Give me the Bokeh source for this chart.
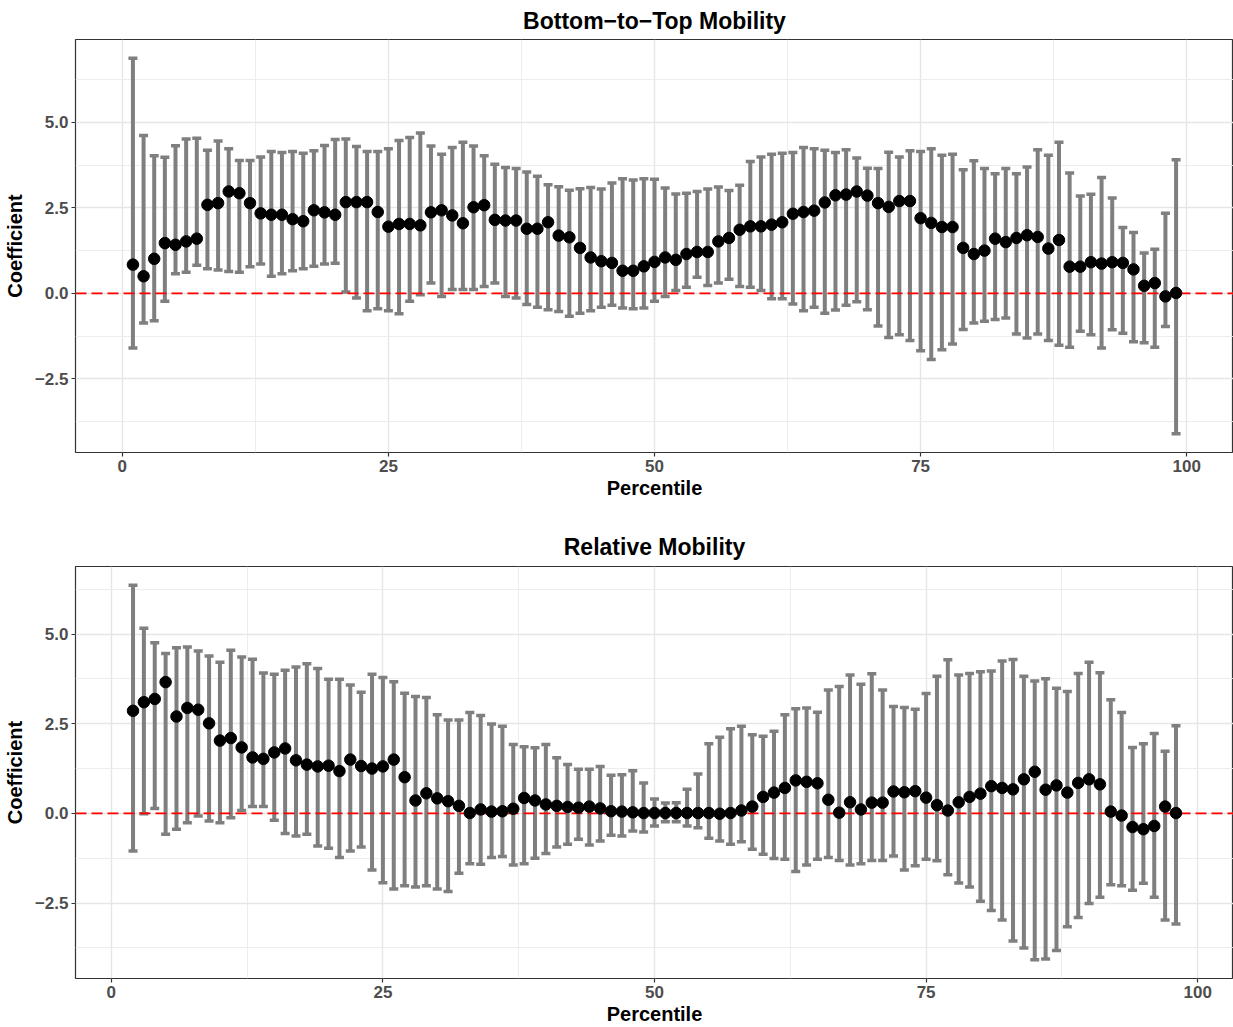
from bokeh.plotting import figure
from bokeh.layouts import column
from bokeh.models import Range1d, FixedTicker, CustomJSTickFormatter, Span, ColumnDataSource
from bokeh.embed import file_html
from bokeh.resources import INLINE

# ---------------- data: Bottom-to-Top Mobility (percentiles 1..99) ----------------
btm_pct = list(range(1, 100))
btm_coef = [0.84, 0.50, 1.01, 1.47, 1.42, 1.52, 1.60, 2.59, 2.64, 2.98,
            2.93, 2.64, 2.34, 2.30, 2.30, 2.17, 2.11, 2.43, 2.37, 2.30,
            2.67, 2.67, 2.67, 2.38, 1.95, 2.03, 2.03, 1.99, 2.37, 2.43,
            2.28, 2.05, 2.52, 2.58, 2.15, 2.13, 2.13, 1.89, 1.89, 2.08,
            1.69, 1.64, 1.33, 1.05, 0.94, 0.89, 0.66, 0.66, 0.79, 0.92,
            1.05, 0.98, 1.15, 1.21, 1.21, 1.52, 1.62, 1.86, 1.96, 1.96,
            2.01, 2.08, 2.33, 2.38, 2.42, 2.66, 2.87, 2.89, 2.98, 2.86,
            2.64, 2.53, 2.70, 2.70, 2.20, 2.06, 1.94, 1.94, 1.33, 1.15,
            1.25, 1.60, 1.50, 1.62, 1.70, 1.65, 1.31, 1.56, 0.78, 0.78,
            0.91, 0.87, 0.91, 0.89, 0.70, 0.22, 0.30, -0.09, 0.01]
btm_lower = [-1.60, -0.87, -0.80, -0.23, 0.57, 0.62, 0.82, 0.72, 0.68, 0.64,
             0.62, 0.78, 0.86, 0.50, 0.57, 0.66, 0.72, 0.79, 0.86, 0.88,
             0.04, -0.14, -0.51, -0.45, -0.51, -0.60, -0.23, -0.04, 0.30, -0.09,
             0.11, 0.11, 0.11, 0.20, 0.30, -0.09, -0.14, -0.33, -0.41, -0.48,
             -0.53, -0.67, -0.58, -0.51, -0.41, -0.35, -0.43, -0.45, -0.43, -0.23,
             -0.09, 0.08, 0.18, 0.47, 0.23, 0.30, 0.41, 0.20, 0.18, 0.08,
             -0.16, -0.16, -0.31, -0.51, -0.41, -0.58, -0.49, -0.35, -0.25, -0.48,
             -0.96, -1.29, -1.21, -1.38, -1.68, -1.94, -1.65, -1.48, -1.06, -0.87,
             -0.82, -0.77, -0.72, -1.19, -1.31, -1.19, -1.38, -1.52, -1.58, -1.11,
             -1.21, -1.60, -1.07, -1.17, -1.42, -1.45, -1.58, -0.97, -4.11]
btm_upper = [6.88, 4.62, 4.03, 3.98, 4.32, 4.52, 4.54, 4.19, 4.46, 4.23,
             3.89, 3.89, 3.99, 4.15, 4.12, 4.15, 4.10, 4.17, 4.33, 4.50,
             4.52, 4.30, 4.15, 4.15, 4.23, 4.47, 4.56, 4.69, 4.31, 4.07,
             4.27, 4.42, 4.31, 4.03, 3.78, 3.68, 3.65, 3.55, 3.43, 3.18,
             3.12, 3.02, 3.06, 3.10, 3.05, 3.23, 3.35, 3.32, 3.35, 3.34,
             3.08, 2.91, 2.93, 2.98, 3.05, 3.11, 3.01, 3.16, 3.86, 3.99,
             4.07, 4.10, 4.12, 4.27, 4.23, 4.19, 4.12, 4.20, 3.96, 3.66,
             3.65, 4.13, 3.99, 4.17, 4.15, 4.23, 4.04, 4.07, 3.62, 3.88,
             3.65, 3.50, 3.65, 3.50, 3.70, 4.20, 4.04, 4.42, 3.52, 2.85,
             2.90, 3.39, 2.79, 1.93, 1.78, 1.18, 1.29, 2.34, 3.91]

# ---------------- data: Relative Mobility (percentiles 2..98) ----------------
rel_pct = list(range(2, 99))
rel_coef = [2.86, 3.10, 3.19, 3.66, 2.70, 2.94, 2.89, 2.51, 2.03, 2.10,
            1.84, 1.56, 1.52, 1.70, 1.81, 1.48, 1.36, 1.31, 1.33, 1.18,
            1.50, 1.32, 1.25, 1.31, 1.50, 1.01, 0.36, 0.56, 0.42, 0.34,
            0.21, 0.01, 0.11, 0.05, 0.06, 0.13, 0.43, 0.36, 0.25, 0.21,
            0.18, 0.16, 0.19, 0.14, 0.06, 0.05, 0.03, 0.01, 0.01, 0.01,
            0.01, 0.01, 0.01, 0.01, -0.01, 0.01, 0.08, 0.19, 0.46, 0.58,
            0.71, 0.92, 0.88, 0.84, 0.38, 0.02, 0.31, 0.11, 0.30, 0.30,
            0.61, 0.59, 0.62, 0.44, 0.23, 0.08, 0.31, 0.46, 0.55, 0.76,
            0.71, 0.67, 0.95, 1.16, 0.66, 0.78, 0.58, 0.85, 0.95, 0.81,
            0.05, -0.06, -0.38, -0.44, -0.35, 0.19, 0.01]
rel_lower = [-1.05, -0.01, 0.14, -0.58, -0.44, -0.26, -0.07, -0.21, -0.26, -0.12,
             0.08, 0.19, 0.19, -0.19, -0.56, -0.63, -0.58, -0.91, -0.97, -1.23,
             -1.05, -0.94, -1.58, -1.93, -2.11, -2.02, -2.05, -2.02, -2.11, -2.18,
             -1.67, -1.40, -1.42, -1.23, -1.20, -1.44, -1.40, -1.25, -1.12, -0.94,
             -0.86, -0.72, -0.88, -0.77, -0.61, -0.63, -0.49, -0.52, -0.35, -0.23,
             -0.23, -0.35, -0.40, -0.69, -0.77, -0.86, -0.79, -1.00, -1.14, -1.26,
             -1.28, -1.62, -1.44, -1.28, -1.23, -1.31, -1.44, -1.40, -1.31, -1.31,
             -1.19, -1.58, -1.46, -1.28, -1.32, -1.71, -1.94, -2.05, -2.45, -2.71,
             -2.97, -3.56, -3.75, -4.08, -4.06, -3.82, -3.16, -2.90, -2.51, -2.34,
             -1.99, -2.02, -2.14, -1.95, -2.34, -2.97, -3.08]
rel_upper = [6.36, 5.16, 4.76, 4.46, 4.62, 4.64, 4.53, 4.39, 4.21, 4.55,
             4.36, 4.30, 3.91, 3.88, 3.99, 4.08, 4.17, 4.04, 3.74, 3.74,
             3.58, 3.38, 3.88, 3.79, 3.67, 3.35, 3.26, 3.23, 2.75, 2.60,
             2.60, 2.81, 2.73, 2.49, 2.43, 1.92, 1.86, 1.83, 1.92, 1.55,
             1.36, 1.23, 1.23, 1.31, 1.06, 1.08, 1.19, 0.85, 0.40, 0.29,
             0.30, 0.67, 1.10, 1.94, 2.12, 2.36, 2.43, 2.19, 2.15, 2.29,
             2.75, 2.92, 2.94, 2.82, 3.44, 3.54, 3.86, 3.60, 3.89, 3.44,
             2.98, 2.95, 2.90, 3.34, 3.82, 4.28, 3.86, 3.90, 3.95, 3.97,
             4.25, 4.29, 3.82, 3.69, 3.75, 3.49, 3.40, 3.90, 4.21, 3.92,
             3.17, 2.81, 1.84, 1.94, 2.23, 1.73, 2.44]

x_ticks = [0, 25, 50, 75, 100]
x_minor = [12.5, 37.5, 62.5, 87.5]
y_ticks = [-2.5, 0.0, 2.5, 5.0]
y_minor = [-3.75, -1.25, 1.25, 3.75, 6.25]

FONT = "Liberation Sans"
BAR = "#7F7F7F"


def make_panel(title, xs, coef, lo, hi, height, top_border, bottom_border, cap_w, title_standoff):
    xmin = min(xs) - cap_w / 2
    xmax = max(xs) + cap_w / 2
    xpad = (xmax - xmin) * 0.05
    ymin, ymax = min(lo), max(hi)
    ypad = (ymax - ymin) * 0.05
    p = figure(width=1233, height=height, output_backend="svg", toolbar_location=None,
               x_range=Range1d(xmin - xpad, xmax + xpad),
               y_range=Range1d(ymin - ypad, ymax + ypad),
               min_border_left=73, min_border_right=0,
               min_border_top=top_border, min_border_bottom=bottom_border)
    p.title.text = title
    p.title.align = "center"
    p.title.text_font = FONT
    p.title.text_font_style = "bold"
    p.title.text_font_size = "23px"
    p.title.text_line_height = 1.0
    p.title.text_color = "#000000"
    p.title.standoff = title_standoff

    p.background_fill_color = "white"
    p.border_fill_color = "white"
    p.outline_line_color = "#333333"
    p.outline_line_width = 1.2

    p.xaxis.ticker = FixedTicker(ticks=x_ticks, minor_ticks=x_minor)
    p.yaxis.ticker = FixedTicker(ticks=y_ticks, minor_ticks=y_minor)
    p.xaxis.formatter = CustomJSTickFormatter(code="return tick.toFixed(0);")
    p.yaxis.formatter = CustomJSTickFormatter(
        code="return tick.toFixed(1).replace('-', '\u2212');")
    for ax in (p.xaxis[0], p.yaxis[0]):
        ax.axis_line_color = None
        ax.major_tick_line_color = "#333333"
        ax.major_tick_line_width = 1.2
        ax.major_tick_out = 4
        ax.major_tick_in = 0
        ax.minor_tick_line_color = None
        ax.major_label_text_font = FONT
        ax.major_label_text_font_style = "bold"
        ax.major_label_text_font_size = "17px"
        ax.major_label_text_color = "#4D4D4D"
        ax.major_label_standoff = 3
        ax.axis_label_text_font = FONT
        ax.axis_label_text_font_style = "bold"
        ax.axis_label_text_font_size = "20px"
        ax.axis_label_text_color = "#000000"
    p.xaxis.axis_label = "Percentile"
    p.yaxis.axis_label = "Coefficient"
    p.xaxis.axis_label_standoff = 2
    p.yaxis.axis_label_standoff = 6

    p.xgrid.grid_line_color = "#E6E6E6"
    p.ygrid.grid_line_color = "#E6E6E6"
    p.xgrid.grid_line_width = 1.4
    p.ygrid.grid_line_width = 1.4
    p.xgrid.minor_grid_line_color = "#EBEBEB"
    p.ygrid.minor_grid_line_color = "#EBEBEB"
    p.xgrid.minor_grid_line_width = 0.9
    p.ygrid.minor_grid_line_width = 0.9

    src = ColumnDataSource(dict(x=xs, y=coef, lo=lo, hi=hi))
    p.segment(x0="x", y0="lo", x1="x", y1="hi", source=src,
              line_color=BAR, line_width=4)
    p.scatter(x="x", y="hi", source=src, marker="dash", size=9,
              line_color=BAR, line_width=3.5)
    p.scatter(x="x", y="lo", source=src, marker="dash", size=9,
              line_color=BAR, line_width=3.5)

    zero = Span(location=0, dimension="width", line_color="#FF0000",
                line_dash="11 5", line_width=1.8)
    p.add_layout(zero)

    pts = p.scatter(x="x", y="y", source=src, size=11.5,
                    fill_color="black", line_color="black")
    pts.level = "overlay"
    return p


top = make_panel("Bottom\u2212to\u2212Top Mobility", btm_pct, btm_coef, btm_lower, btm_upper,
                 513, 38, 61, 0.9, 11)
bottom = make_panel("Relative Mobility", rel_pct, rel_coef, rel_lower, rel_upper,
                    514, 53, 49, 0.9, 14)

layout = column(top, bottom, spacing=0)
open("out.html", "w").write(file_html(layout, INLINE))
